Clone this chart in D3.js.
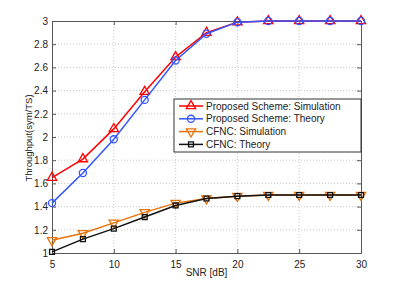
<!DOCTYPE html>
<html>
<head>
<meta charset="utf-8">
<script src="https://cdn.jsdelivr.net/npm/d3@7"></script>
<style>
  body { margin: 0; background: #fff; }
  svg { font-family: "Liberation Sans", Arial, sans-serif; }
  .grid line { stroke: #c8c8c8; stroke-dasharray: 1,2; }
  .axis text { font-size: 10px; fill: #222; }
</style>
</head>
<body>
<div id="chart"></div>
<script>
// data
const snr = [5, 7.5, 10, 12.5, 15, 17.5, 20, 22.5, 25, 27.5, 30];
const propSim = [1.65, 1.81, 2.07, 2.39, 2.69, 2.9, 2.99, 3, 3, 3, 3];
const propTheory = [1.43, 1.69, 1.98, 2.32, 2.66, 2.89, 2.99, 3, 3, 3, 3];
const cfncSim = [1.11, 1.17, 1.26, 1.35, 1.43, 1.47, 1.49, 1.5, 1.5, 1.5, 1.5];
const cfncTheory = [1.01, 1.12, 1.21, 1.31, 1.41, 1.47, 1.49, 1.5, 1.5, 1.5, 1.5];
const xTicks = [5, 10, 15, 20, 25, 30];
const yTicks = [1, 1.2, 1.4, 1.6, 1.8, 2, 2.2, 2.4, 2.6, 2.8, 3];

const series = [
  { name: "Proposed Scheme: Simulation", values: propSim, color: "#ff0000", symbol: "up" },
  { name: "Proposed Scheme: Theory", values: propTheory, color: "#3355ff", symbol: "circle" },
  { name: "CFNC: Simulation", values: cfncSim, color: "#e8730c", symbol: "down" },
  { name: "CFNC: Theory", values: cfncTheory, color: "#111111", symbol: "square" }
];

let width = 399,
  height = 286,
  margin = { top: 21, right: 38, bottom: 33, left: 52 };

const svg = d3
  .select("#chart")
  .append("svg")
  .attr("width", width)
  .attr("height", height);

let x = d3.scaleLinear().domain([5, 30]).range([margin.left, width - margin.right]);
let y = d3.scaleLinear().domain([1, 3]).range([height - margin.bottom, margin.top]);

// grid
svg.append("g").attr("class", "grid")
  .selectAll("line.gx")
  .data(xTicks.slice(1, -1))
  .join("line")
  .attr("x1", (d) => x(d)).attr("x2", (d) => x(d))
  .attr("y1", y(1)).attr("y2", y(3));
svg.append("g").attr("class", "grid")
  .selectAll("line.gy")
  .data(yTicks.slice(1, -1))
  .join("line")
  .attr("x1", x(5)).attr("x2", x(30))
  .attr("y1", (d) => y(d)).attr("y2", (d) => y(d));

// axes, MATLAB style: ticks inward on all four sides
function styleAxis(g) {
  g.select(".domain").attr("stroke", "#555");
  g.selectAll(".tick line").attr("stroke", "#555");
}
svg.append("g").attr("class", "axis")
  .attr("transform", `translate(0,${y(1)})`)
  .call(d3.axisBottom(x).tickValues(xTicks).tickSizeInner(-4).tickSizeOuter(0).tickPadding(8))
  .call(styleAxis);
svg.append("g").attr("class", "axis")
  .attr("transform", `translate(0,${y(3)})`)
  .call(d3.axisTop(x).tickValues(xTicks).tickSizeInner(-4).tickSizeOuter(0).tickFormat(""))
  .call(styleAxis);
svg.append("g").attr("class", "axis")
  .attr("transform", `translate(${x(5)},0)`)
  .call(d3.axisLeft(y).tickValues(yTicks).tickSizeInner(-4).tickSizeOuter(0).tickPadding(4)
    .tickFormat((d) => d3.format("~g")(d)))
  .call(styleAxis);
svg.append("g").attr("class", "axis")
  .attr("transform", `translate(${x(30)},0)`)
  .call(d3.axisRight(y).tickValues(yTicks).tickSizeInner(-4).tickSizeOuter(0).tickFormat(""))
  .call(styleAxis);

function symbolPath(kind) {
  if (kind === "up") return d3.symbol().type(d3.symbolTriangle).size(38)();
  if (kind === "down") return d3.symbol().type(d3.symbolTriangle).size(38)();
  if (kind === "square") return d3.symbol().type(d3.symbolSquare).size(24)();
  return d3.symbol().type(d3.symbolCircle).size(40)();
}
function symbolRotate(kind) {
  return kind === "down" ? " rotate(180)" : "";
}

const line = d3.line().x((d) => x(d[0])).y((d) => y(d[1]));

for (let s of series) {
  let pts = snr.map((v, i) => [v, s.values[i]]);
  svg.append("path")
    .datum(pts)
    .attr("fill", "none")
    .attr("stroke", s.color)
    .attr("stroke-width", 1.5)
    .attr("d", line);
  svg.append("g")
    .selectAll("path")
    .data(pts)
    .join("path")
    .attr("d", symbolPath(s.symbol))
    .attr("fill", "none")
    .attr("stroke", s.color)
    .attr("stroke-width", 1.3)
    .attr("transform", (d) => `translate(${x(d[0])},${y(d[1])})` + symbolRotate(s.symbol));
}

// legend
let lx = 174, ly = 99, lw = 187, lh = 53;
const legend = svg.append("g");
legend.append("rect")
  .attr("x", lx).attr("y", ly).attr("width", lw).attr("height", lh)
  .attr("fill", "#fff").attr("stroke", "#333").attr("stroke-width", 1);
series.forEach((s, i) => {
  let yy = ly + 7 + i * 12.8;
  legend.append("line")
    .attr("x1", lx + 5).attr("x2", lx + 29)
    .attr("y1", yy).attr("y2", yy)
    .attr("stroke", s.color).attr("stroke-width", 1.5);
  legend.append("path")
    .attr("d", symbolPath(s.symbol))
    .attr("fill", "none")
    .attr("stroke", s.color)
    .attr("stroke-width", 1.3)
    .attr("transform", `translate(${lx + 17},${yy})` + symbolRotate(s.symbol));
  legend.append("text")
    .attr("x", lx + 32).attr("y", yy)
    .attr("dy", "0.35em")
    .style("font-size", "10px")
    .attr("fill", "#222")
    .text(s.name);
});

// axis labels
svg.append("text")
  .attr("text-anchor", "middle")
  .attr("x", (x(5) + x(30)) / 2)
  .attr("y", 276)
  .style("font-size", "10px")
  .attr("fill", "#222")
  .text("SNR [dB]");

svg.append("text")
  .attr("text-anchor", "middle")
  .attr("transform", `translate(32,${(y(1) + y(3)) / 2 + 1}) rotate(-90)`)
  .style("font-size", "9.5px")
  .attr("fill", "#222")
  .text("Throughput(sym/TS)");
</script>
</body>
</html>
